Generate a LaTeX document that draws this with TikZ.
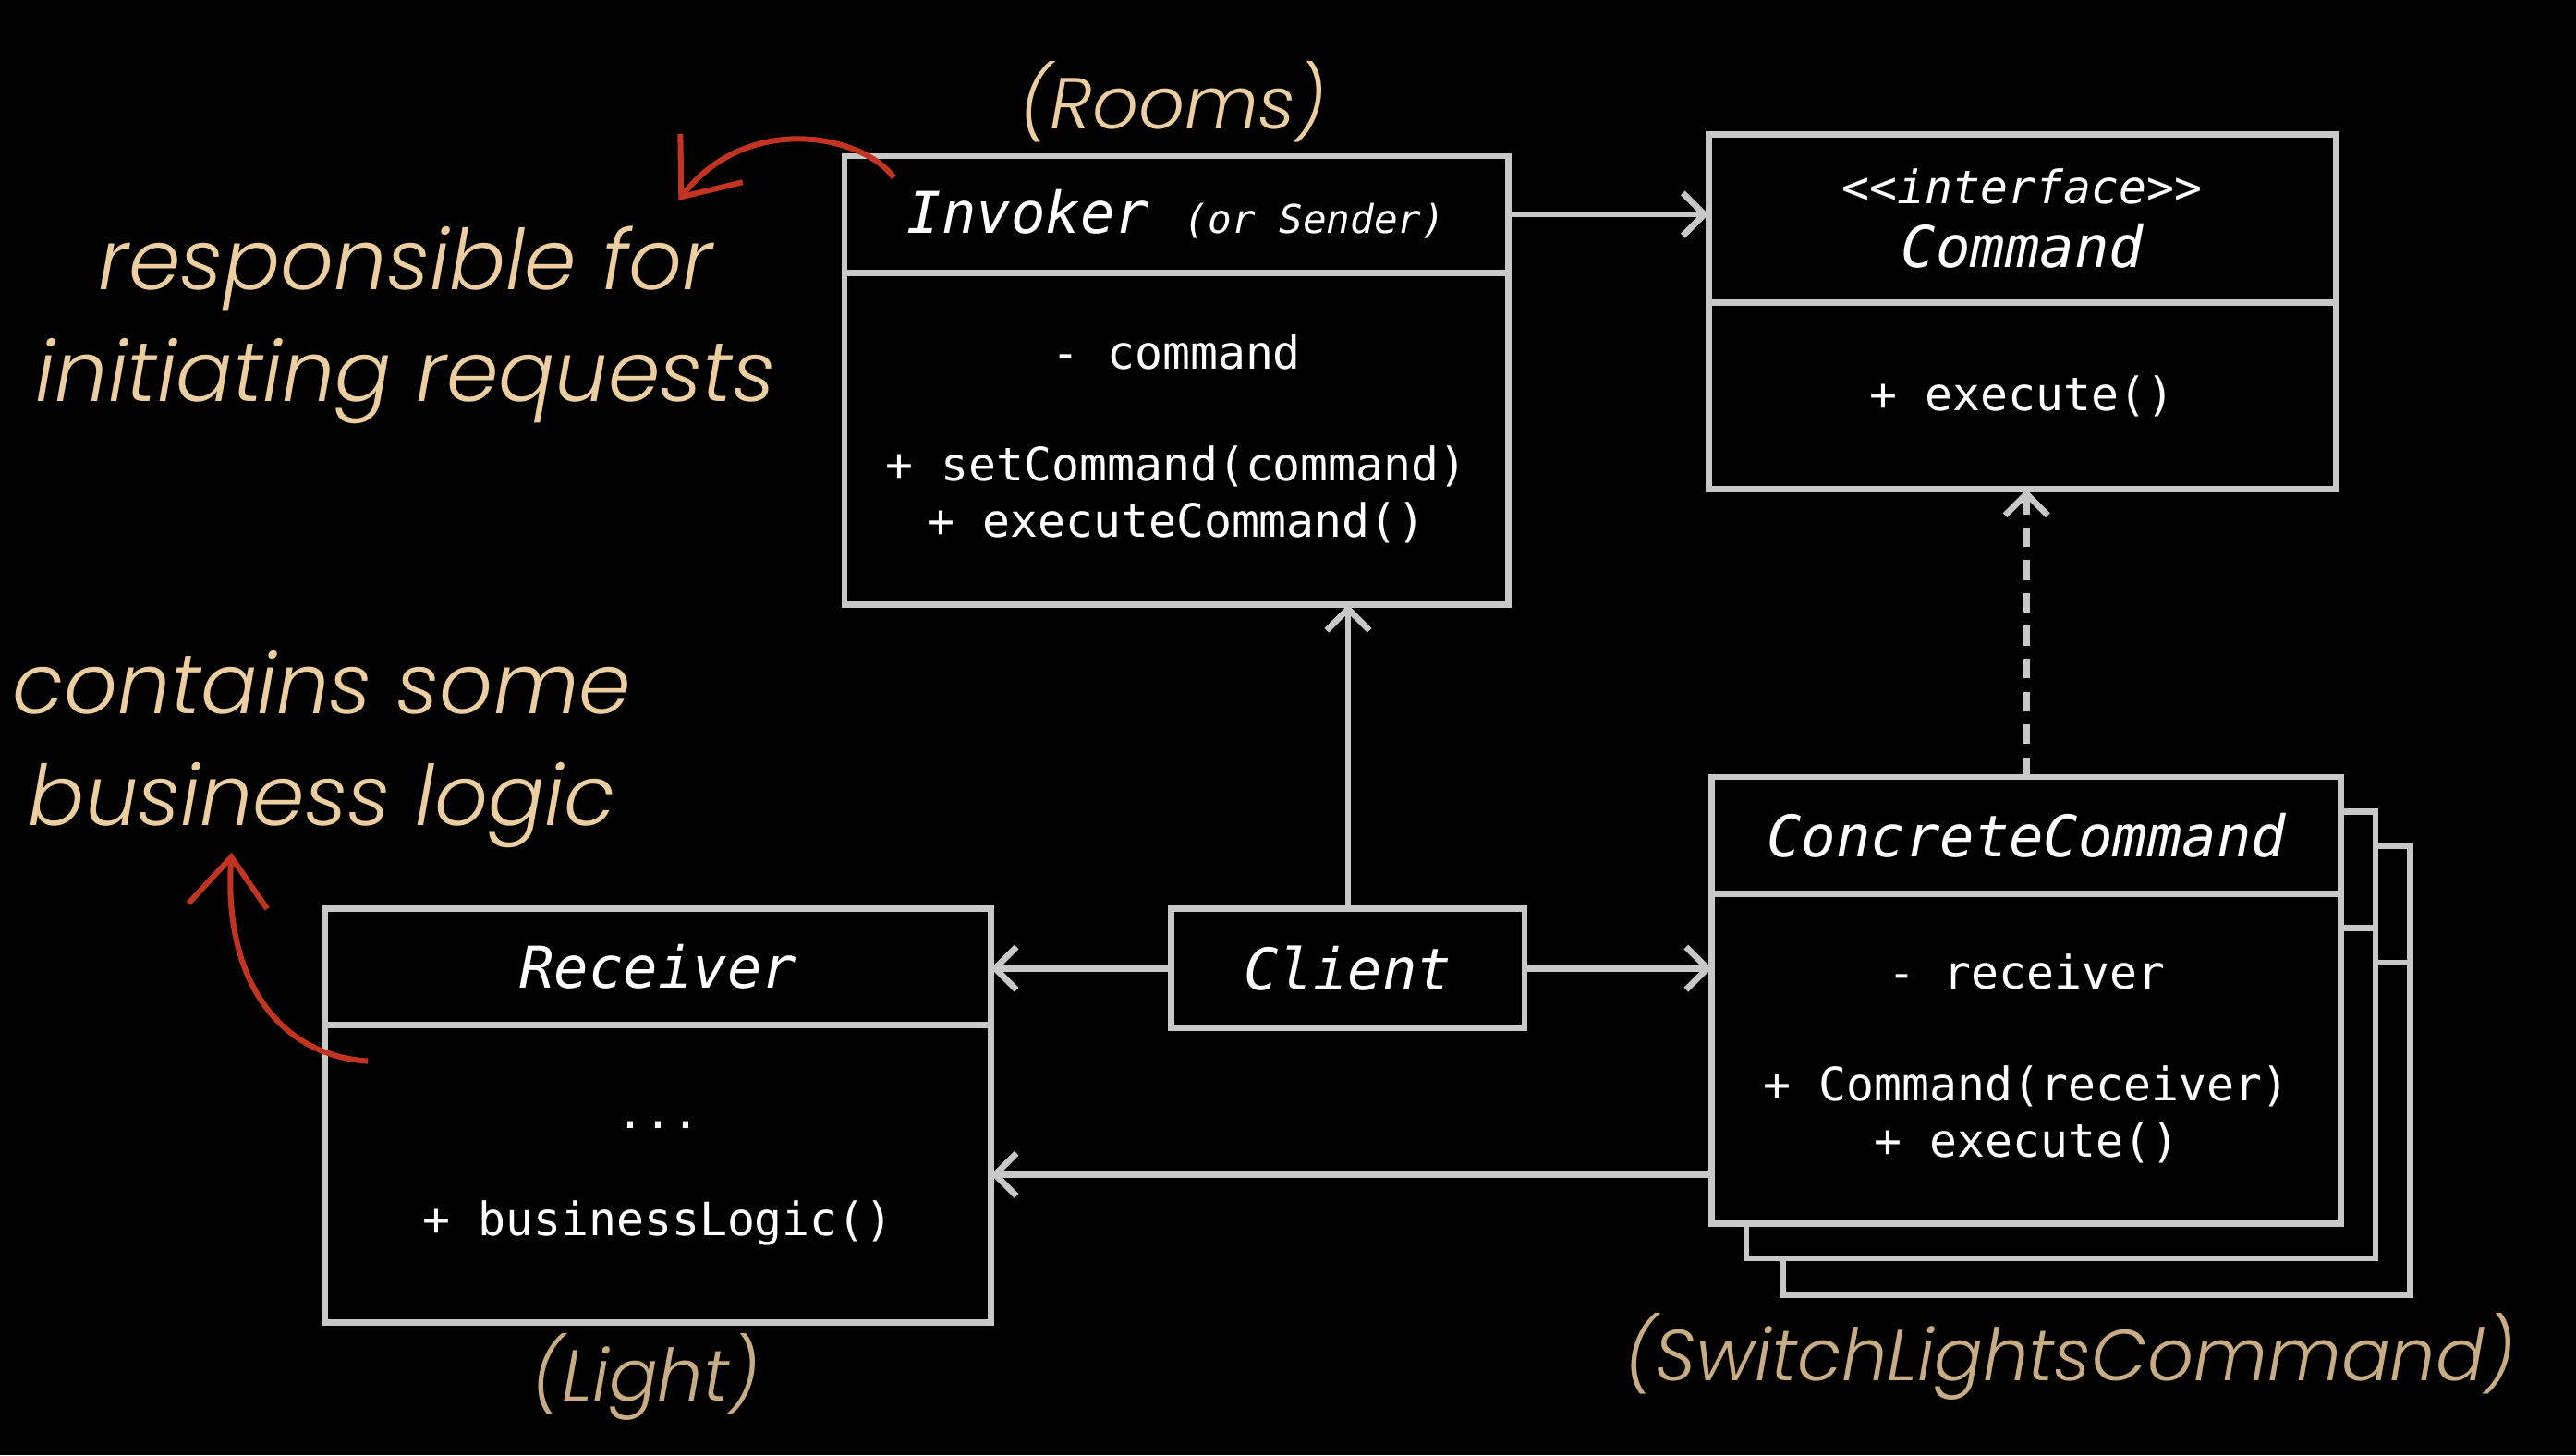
\documentclass[tikz,border=0pt]{standalone}
\usepackage{fontspec}
\usetikzlibrary{arrows.meta}
\setmonofont{DejaVu Sans Mono}
\newfontfamily\notefont{Poppins Light Italic}

\definecolor{linegray}{RGB}{200,200,200}
\definecolor{notetan}{RGB}{236,206,160}
\definecolor{labeltan}{RGB}{200,172,132}
\definecolor{markred}{RGB}{194,52,34}

\tikzset{
  classbox/.style={draw=linegray, line width=3.8pt, fill=black, anchor=north west, inner sep=0pt, outer sep=0pt, text=white, align=center, font=\ttfamily\fontsize{28}{34}\selectfont},
  classname/.style={classbox, font=\ttfamily\itshape\fontsize{35}{42}\selectfont},
  edge/.style={draw=linegray, line width=3.8pt},
  link/.style={edge, -{Straight Barb[length=13pt,width=26pt]}},
  note/.style={text=notetan, align=center, font=\notefont\fontsize{51}{68}\selectfont},
  alias/.style={text=labeltan, font=\notefont\fontsize{44}{52}\selectfont},
  hint/.style={draw=markred, line width=3.4pt, -{Straight Barb[length=30pt,width=48pt]}},
}

\begin{document}
\begin{tikzpicture}[x=1pt,y=1pt,yscale=-1,xscale=1]
    \useasboundingbox (0,0) rectangle (1568,886);
    \fill[black] (0,0) rectangle (1568,886);

    % Invoker
    \node[classname, minimum width=404pt, minimum height=71pt] (invhead) at (514,95) {Invoker {\fontsize{24}{28}\selectfont(or Sender)}};
    \node[classbox, minimum width=404pt, minimum height=202pt] (invbody) at (514,166) {- command\\[34pt]+ setCommand(command)\\+ executeCommand()};

    % Command interface
    \node[classname, minimum width=382pt, minimum height=102pt] (cmdhead) at (1040,82) {{\fontsize{28}{34}\selectfont <<interface>>}\\[-3pt]Command};
    \node[classbox, minimum width=382pt, minimum height=114pt] (cmdbody) at (1040,184) {+ execute()};

    % copies behind ConcreteCommand
    \node[classbox, minimum width=382pt, minimum height=273pt] (cccopyb) at (1085,515) {};
    \draw[edge] ([yshift=71pt]cccopyb.north west) -- ([yshift=71pt]cccopyb.north east);
    \node[classbox, minimum width=383pt, minimum height=272pt] (cccopya) at (1063,494) {};
    \draw[edge] ([yshift=71pt]cccopya.north west) -- ([yshift=71pt]cccopya.north east);

    % ConcreteCommand
    \node[classname, minimum width=383pt, minimum height=71pt] (cchead) at (1042,473) {ConcreteCommand};
    \node[classbox, minimum width=383pt, minimum height=201pt] (ccbody) at (1042,544) {- receiver\\[34pt]+ Command(receiver)\\+ execute()};

    % Receiver
    \node[classname, minimum width=405pt, minimum height=71pt] (recvhead) at (198,553) {Receiver};
    \node[classbox, minimum width=405pt, minimum height=181pt] (recvbody) at (198,624) {\rule{0pt}{16pt}...\\[31pt]+ businessLogic()};

    % Client
    \node[classname, minimum width=215pt, minimum height=73pt] (client) at (713,553) {Client};

    % links
    \draw[link] (invhead.east) -- (invhead.east -| cmdhead.west);
    \draw[link, dash pattern=on 12pt off 8pt] (cchead.north) -- (cchead.north |- cmdbody.south);
    \draw[link] (client.north) -- (client.north |- invbody.south);
    \draw[link] (client.west) -- (client.west -| recvhead.east);
    \draw[link] (client.east) -- (client.east -| ccbody.west);
    \coordinate (ccback) at (1042,715);
    \draw[link] (ccback) -- (ccback -| recvbody.east);

    % names in the example
    \node[alias, text=notetan] (rooms) at (714,62) {(Rooms)};
    \node[alias] (light) at (393,838) {(Light)};
    \node[alias] (switch) at (1260,826) {(SwitchLightsCommand)};

    % notes
    \node[note] (invnote) at (247,198) {responsible for\\initiating requests};
    \node[note] (recvnote) at (196,456) {contains some\\business logic};

    % red marks
    \coordinate (invmark) at (544,108);
    \coordinate (invtip) at (413,122);
    \draw[hint] (invmark) .. controls (525,82) and (455,68) .. (invtip);
    \coordinate (recvmark) at (224,646);
    \coordinate (recvtip) at (141,519);
    \draw[hint] (recvmark) .. controls (165,642) and (136,590) .. (recvtip);

\end{tikzpicture}
\end{document}
